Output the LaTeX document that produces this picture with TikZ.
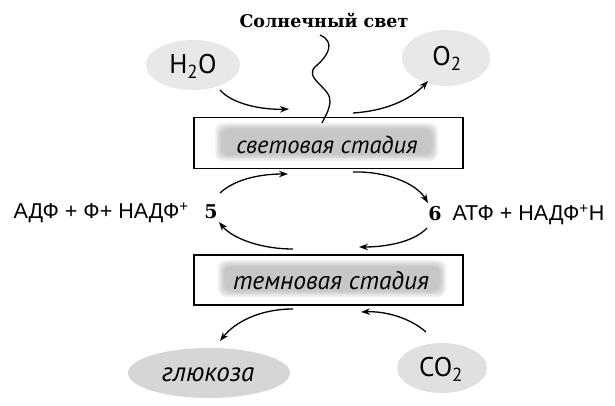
\documentclass[tikz,border=0pt]{standalone}
\usepackage{fontspec}
\setmainfont{DejaVu Serif}
\newfontfamily\ptsans{PT Sans}
\newfontfamily\libsans{Liberation Sans}
\usetikzlibrary{arrows.meta}
\begin{document}
\begin{tikzpicture}[x=1pt,y=-1pt,
  arr/.style={line width=1.3pt,-{Stealth[length=9pt,width=6.5pt]}},
  stagebox/.style={draw,line width=1.5pt},
  chem/.style={font=\ptsans\fontsize{27}{27}\selectfont},
  stagetxt/.style={font=\ptsans\itshape\fontsize{24.5}{24.5}\selectfont},
  formula/.style={font=\libsans\fontsize{21.5}{21.5}\selectfont},
  num/.style={font=\bfseries\fontsize{19}{19}\selectfont}]
\useasboundingbox (0,0) rectangle (615,406);
% ellipses
\fill[black!9] (193,65) ellipse[x radius=47,y radius=25];
\fill[black!9] (446,58) ellipse[x radius=44,y radius=28];
\fill[black!16] (209,373) ellipse[x radius=81,y radius=25];
\fill[black!12] (442,368) ellipse[x radius=45,y radius=25];
\node[chem] (h2o) at (193,66) {H\textsubscript{2}O};
\node[chem] (o2) at (447,58) {O\textsubscript{2}};
\node[chem] (co2) at (441,369) {CO\textsubscript{2}};
\node[stagetxt,font=\ptsans\itshape\fontsize{27}{27}\selectfont] (glu) at (208,375) {глюкоза};
% sun
\node[font=\bfseries\fontsize{17.5}{17.5}\selectfont] (sun) at (324,20) {Солнечный свет};
% stage boxes
\node[stagebox,minimum width=269,minimum height=51,anchor=north west] (light) at (193,117) {};
\node[stagebox,minimum width=269,minimum height=50,anchor=north west] (dark) at (193,254) {};
\foreach \i/\c in {0/5,1.5/10,3/15,4.5/19,6/22}{
  \fill[black!\c,rounded corners=8pt] (215+\i,123+\i) rectangle (438-\i,161-\i);
  \fill[black!\c,rounded corners=8pt] (218+\i,260+\i) rectangle (446-\i,297-\i);
}
\node[stagetxt] (lt) at (327,145) {световая стадия};
\node[stagetxt,font=\ptsans\itshape\fontsize{25.5}{25.5}\selectfont] (dt) at (331,281) {темновая стадия};
% wave
\draw[line width=1.3pt] (320,35) .. controls (336,42) and (328,56) .. (316,66)
  .. controls (302,78) and (332,88) .. (330,102) .. controls (329,112) and (324,118) .. (322,123);
% numbers and formulas
\node[num] (n5) at (211,212) {5};
\node[num] (n6) at (435,214) {6};
\node[formula,anchor=west] (adp) at (10,213) {АДФ + Ф+ НАДФ\textsuperscript{+}};
\node[formula,anchor=west] (atp) at (449,215) {АТФ + НАДФ\textsuperscript{+}Н};
% arrow end coordinates
\coordinate (a1s) at (220,90); \coordinate (a1e) at (289,109);
\coordinate (a2s) at (353,113); \coordinate (a2e) at (428,81);
\coordinate (c1s) at (220,193); \coordinate (c1e) at (288,174);
\coordinate (c2s) at (353,172); \coordinate (c2e) at (428,203);
\coordinate (c3s) at (427,228); \coordinate (c3e) at (359,247);
\coordinate (c4s) at (293,249); \coordinate (c4e) at (219,222);
\coordinate (b1s) at (293,309); \coordinate (b1e) at (220,341);
\coordinate (b2s) at (426,332); \coordinate (b2e) at (361,312);
\draw[arr] (a1s) .. controls (232,104) and (262,110) .. (a1e);
\draw[arr] (a2s) .. controls (385,111) and (410,100) .. (a2e);
\draw[arr] (c1s) .. controls (234,180) and (258,174) .. (c1e);
\draw[arr] (c2s) .. controls (385,171) and (416,183) .. (c2e);
\draw[arr] (c3s) .. controls (414,242) and (386,247) .. (c3e);
\draw[arr] (c4s) .. controls (260,249) and (232,238) .. (c4e);
\draw[arr] (b1s) .. controls (260,309) and (235,322) .. (b1e);
\draw[arr] (b2s) .. controls (410,318) and (386,311) .. (b2e);
\end{tikzpicture}
\end{document}
